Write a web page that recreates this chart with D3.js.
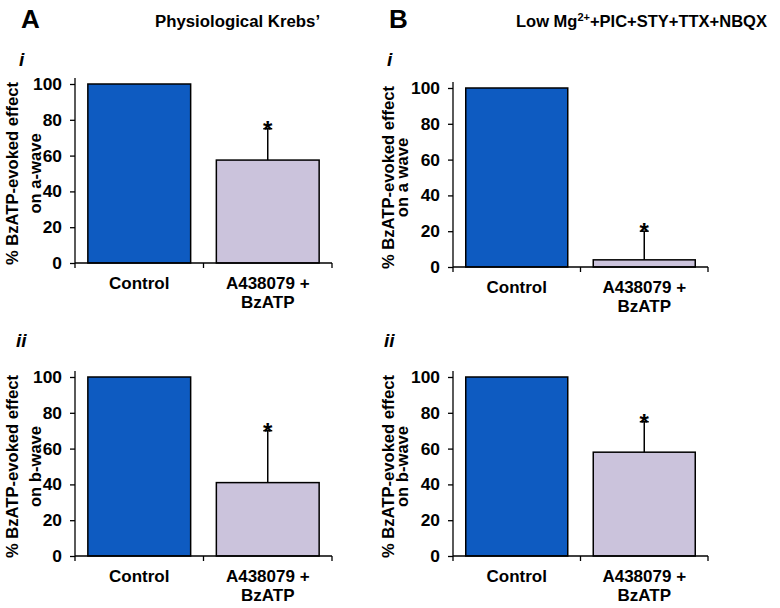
<!DOCTYPE html>
<html>
<head>
<meta charset="utf-8">
<script src="https://cdn.jsdelivr.net/npm/d3@7"></script>
<style>
  html, body { margin: 0; padding: 0; background: #fff; }
  svg text { font-family: "Liberation Sans", Arial, Helvetica, sans-serif; font-weight: bold; fill: #000; }
</style>
</head>
<body>
<svg id="chart" width="780" height="608"></svg>
<script>
// ---- data ----
const categories = ["Control", "A438079 + BzATP"];
const categoryLines = [["Control"], ["A438079 +", "BzATP"]];
const meansAi  = [100, 57.5];
const errAi    = [0, 17.5];
const meansBi  = [100, 4];
const errBi    = [0, 16];
const meansAii = [100, 41];
const errAii   = [0, 29];
const meansBii = [100, 58];
const errBii   = [0, 17];
const sigAi  = [false, true];
const sigBi  = [false, true];
const sigAii = [false, true];
const sigBii = [false, true];
const yTicks = [0, 20, 40, 60, 80, 100];
const yTitleA = ["% BzATP-evoked effect", "on a-wave"];
const yTitleBa = ["% BzATP-evoked effect", "on a wave"];
const yTitleB = ["% BzATP-evoked effect", "on b-wave"];
const barColors = ["#0E5BC1", "#CBC3DC"];

const svg = d3.select("#chart");

// panel headers
svg.append("text").attr("x", 21).attr("y", 28).style("font-size", "26px").text("A");
svg.append("text").attr("x", 389).attr("y", 28).style("font-size", "26px").text("B");
svg.append("text").attr("x", 155).attr("y", 27).style("font-size", "16.8px").text("Physiological Krebs\u2019");
const tB = svg.append("text").attr("x", 516).attr("y", 27).style("font-size", "16.5px");
tB.append("tspan").text("Low Mg");
tB.append("tspan").attr("dy", -6).style("font-size", "11px").text("2+");
tB.append("tspan").attr("dy", 6).text("+PIC+STY+TTX+NBQX");

function panel(opts) {
  const { left, right, y0, y100, means, errs, sig, title, titleX, numeral, numX, numY } = opts;
  const top = y100 - 6;
  const y = d3.scaleLinear().domain([0, 100]).range([y0, y100]);
  const x = d3.scaleBand().domain(categories).range([left, right]).paddingInner(0.2).paddingOuter(0.1);
  const g = svg.append("g");

  // roman numeral
  g.append("text").attr("x", numX).attr("y", numY).style("font-size", "19px").style("font-style", "italic").text(numeral);

  // bars
  g.selectAll("rect.bar").data(categories).join("rect")
    .attr("x", d => x(d)).attr("width", x.bandwidth())
    .attr("y", (d, i) => y(means[i])).attr("height", (d, i) => y(0) - y(means[i]))
    .attr("fill", (d, i) => barColors[i]).attr("stroke", "#000").attr("stroke-width", 1.5);

  // error bars (upper)
  categories.forEach((c, i) => {
    if (errs[i] <= 0) return;
    const cx = x(c) + x.bandwidth() / 2;
    const yt = y(means[i] + errs[i]);
    g.append("line").attr("x1", cx).attr("x2", cx).attr("y1", y(means[i])).attr("y2", yt)
      .attr("stroke", "#000").attr("stroke-width", 1.5);
    g.append("line").attr("x1", cx - 4.5).attr("x2", cx + 4.5).attr("y1", yt).attr("y2", yt)
      .attr("stroke", "#000").attr("stroke-width", 1.5);
    if (sig[i]) {
      g.append("text").attr("x", cx).attr("y", yt + 9).attr("text-anchor", "middle")
        .style("font-size", "24px").text("*");
    }
  });

  // y axis
  const ax = g.append("g").attr("transform", `translate(${left},0)`)
    .call(d3.axisLeft(y).tickValues(yTicks).tickSize(5).tickSizeOuter(0).tickPadding(8));
  ax.select(".domain").remove();
  ax.selectAll("text").style("font-size", "17.4px").style("font-family", null);
  ax.selectAll("line").attr("stroke", "#000").attr("stroke-width", 1.3);
  g.append("line").attr("x1", left).attr("x2", left).attr("y1", top).attr("y2", y0)
    .attr("stroke", "#000").attr("stroke-width", 1.3);

  // x axis
  g.append("line").attr("x1", left).attr("x2", right).attr("y1", y0).attr("y2", y0)
    .attr("stroke", "#000").attr("stroke-width", 1.3);
  const step = x.step();
  const bounds = [left, x(categories[1]) - step * x.paddingInner() / 2, right];
  g.selectAll("line.xt").data(bounds).join("line")
    .attr("x1", d => d).attr("x2", d => d).attr("y1", y0).attr("y2", y0 + 5)
    .attr("stroke", "#000").attr("stroke-width", 1.3);

  // category labels
  categories.forEach((c, i) => {
    const cx = x(c) + x.bandwidth() / 2;
    categoryLines[i].forEach((ln, j) => {
      g.append("text").attr("x", cx).attr("y", y0 + 26 + j * 19).attr("text-anchor", "middle")
        .style("font-size", "17px").text(ln);
    });
  });

  // y title
  const cy = (y0 + y100) / 2;
  title.forEach((ln, j) => {
    g.append("text").attr("transform", `translate(${titleX[j]},${cy}) rotate(-90)`)
      .attr("text-anchor", "middle").style("font-size", "16.6px").text(ln);
  });
}

panel({ left: 75, right: 332, y0: 263, y100: 84, means: meansAi, errs: errAi, sig: sigAi,
        title: yTitleA, titleX: [18, 41], numeral: "i", numX: 19, numY: 66 });
panel({ left: 453, right: 708, y0: 267, y100: 88, means: meansBi, errs: errBi, sig: sigBi,
        title: yTitleBa, titleX: [394, 408], numeral: "i", numX: 387, numY: 66 });
panel({ left: 75, right: 332, y0: 556, y100: 377, means: meansAii, errs: errAii, sig: sigAii,
        title: yTitleB, titleX: [18, 41], numeral: "ii", numX: 16, numY: 347 });
panel({ left: 453, right: 708, y0: 556, y100: 377, means: meansBii, errs: errBii, sig: sigBii,
        title: yTitleB, titleX: [394, 408], numeral: "ii", numX: 384, numY: 347 });
</script>
</body>
</html>
